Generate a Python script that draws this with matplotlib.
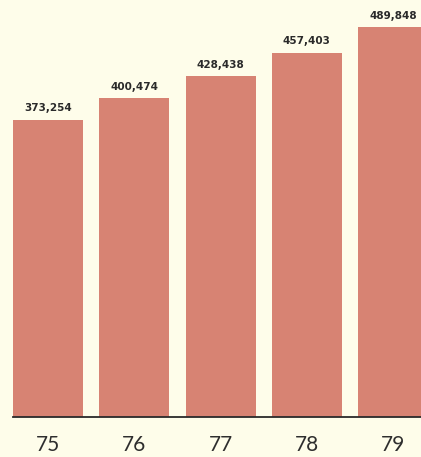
import matplotlib
matplotlib.use("Agg")
import matplotlib.pyplot as plt

years = ["75", "76", "77", "78", "79"]
values = [373254, 400474, 428438, 457403, 489848]
value_labels = ["373,254", "400,474", "428,438", "457,403", "489,848"]

bg = "#FEFDEA"
bar_color = "#D78373"

fig = plt.figure(figsize=(4.21, 4.57), dpi=100, facecolor=bg)
ax = fig.add_axes([0, 40/457, 1, 417/457])
ax.set_facecolor(bg)

x = list(range(len(years)))
width = 0.81
ax.bar(x, values, width=width, color=bar_color, zorder=2)

ax.set_xlim(-0.556, 4.322)
ax.set_ylim(0, 523800)

ax.plot([-width/2, 4.322], [0, 0], color="#2a2a2a", lw=1.3, clip_on=False, zorder=3)

for xi, v, lab in zip(x, values, value_labels):
    ax.text(xi, v + 8000, lab, ha="center", va="bottom", fontsize=7.5,
            fontweight="bold", color="#2a2a2a",
            family=["Liberation Sans Narrow", "DejaVu Sans"])

for xi, yr in zip(x, years):
    ax.text(xi, -22000, yr, ha="center", va="top", fontsize=15,
            color="#2e2e2e", family=["Lato", "DejaVu Sans"], fontweight="normal",
            clip_on=False)

for s in ax.spines.values():
    s.set_visible(False)
ax.set_xticks([])
ax.set_yticks([])

fig.savefig("out.png", dpi=100, facecolor=bg)
